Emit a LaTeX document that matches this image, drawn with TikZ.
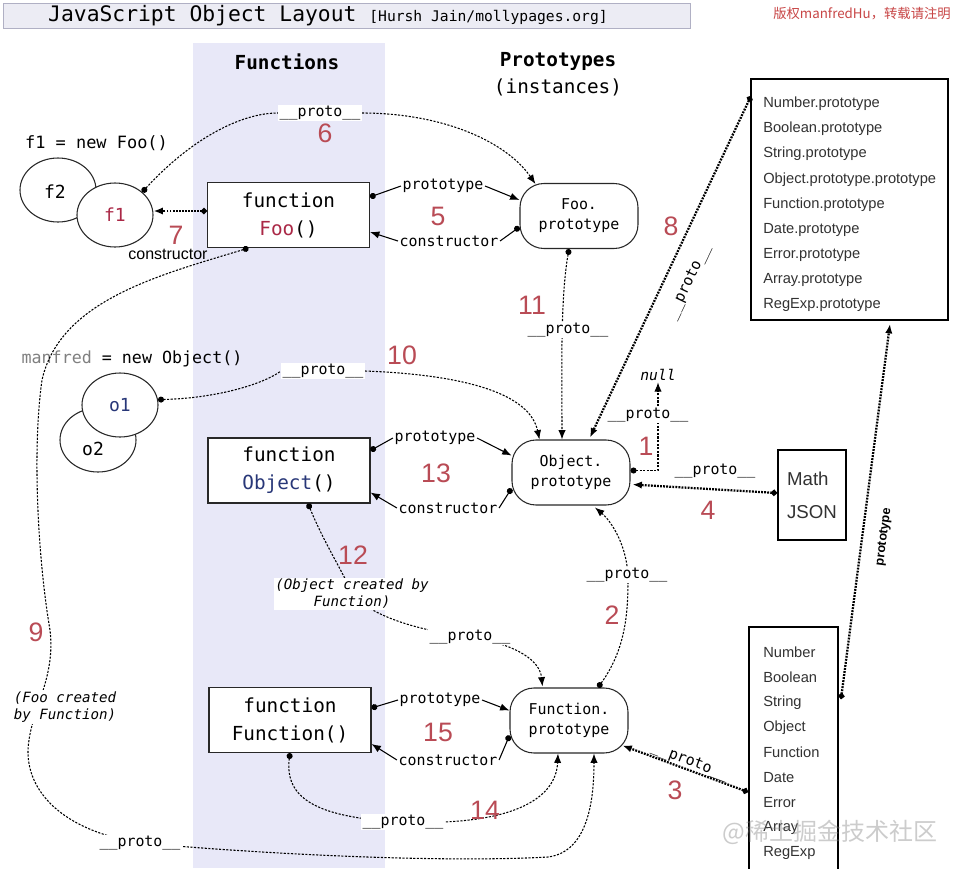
\documentclass[tikz,border=0pt]{standalone}
\usepackage{fontspec}
\setmainfont{Liberation Sans}
\setmonofont{DejaVu Sans Mono}
\newfontfamily\cjkfont{Noto Sans CJK SC}
\usetikzlibrary{arrows.meta,shapes.geometric,calc}
\definecolor{band}{RGB}{232,232,248}
\definecolor{numred}{RGB}{185,75,85}
\definecolor{fred}{RGB}{170,40,70}
\definecolor{oblue}{RGB}{40,55,120}
\definecolor{titlebg}{RGB}{236,236,244}
\definecolor{titlebd}{RGB}{176,176,196}
\definecolor{boxtxt}{RGB}{50,50,50}
\definecolor{copyred}{RGB}{200,70,70}
\definecolor{edge}{RGB}{40,40,40}
\newcommand{\fsz}[2]{\fontsize{#1}{#2}\selectfont}
\newcommand{\protolbl}{\_\_proto\_\_}
\tikzset{
 fbox/.style={draw=edge, line width=0.8pt, fill=white, minimum width=121.5pt, minimum height=48.75pt, inner sep=0pt, align=center, font=\ttfamily\fsz{14.5pt}{21pt}},
 pbox/.style={draw=edge, line width=0.8pt, rounded corners=18pt, fill=white, minimum width=88.5pt, minimum height=48.75pt, inner sep=0pt, align=center, font=\ttfamily\fsz{11.2pt}{15pt}},
 obj/.style={ellipse, draw=edge, line width=0.8pt, fill=white, minimum width=57pt, minimum height=48pt, inner sep=0pt, font=\ttfamily\fsz{13.5pt}{14pt}},
 lbl/.style={fill=white, inner sep=1pt, font=\ttfamily\fsz{11.2pt}{13pt}},
 ilbl/.style={fill=white, inner sep=1pt, align=center, font=\ttfamily\itshape\fsz{10.6pt}{12.75pt}},
 num/.style={text=numred, inner sep=0pt, font=\fsz{20pt}{20pt}},
 dl/.style={line width=0.8pt, dash pattern=on 1.6pt off 1.1pt},
 tdl/.style={line width=1.7pt, dash pattern=on 1.4pt off 0.9pt},
 sl/.style={line width=0.8pt},
 ar/.style={-{Latex[length=7pt,width=5.5pt]}},
 dar/.style={{Circle[length=4.5pt]}-{Latex[length=7pt,width=5.5pt]}},
 dot/.style={{Circle[length=4.5pt]}-},
 btxt/.style={anchor=west, inner sep=0pt, text=boxtxt, font=\fsz{11pt}{12pt}},
 bigbox/.style={draw, line width=1.5pt, fill=white, inner sep=0pt},
}
\begin{document}
\begin{tikzpicture}[x=0.75pt,y=-0.75pt]
\useasboundingbox (0,0) rectangle (957,868);
\fill[white] (0,0) rectangle (957,868);
\fill[band] (193,43) rectangle (385,868);
% title
\draw[titlebd, fill=titlebg, line width=0.6pt] (3,3) rectangle (690,28);
\node[font=\ttfamily, inner sep=0pt] (title) at (328,16) {\fsz{16pt}{16pt}JavaScript Object Layout \fsz{11pt}{11pt}[Hursh Jain/mollypages.org]};
\node[text=copyred, inner sep=0pt] (copy) at (862,14) {\cjkfont\fsz{10pt}{10pt}版权manfredHu，转载请注明};
\node[font=\ttfamily\bfseries\fsz{14.5pt}{15pt}] (hfun) at (287,62) {Functions};
\node[font=\ttfamily\bfseries\fsz{14.5pt}{15pt}] (hpro) at (558,61) {Prototypes};
\node[font=\ttfamily\fsz{14.5pt}{15pt}] (hins) at (558,87) {(instances)};

% instances
\node[font=\ttfamily\fsz{12.7pt}{13pt}] (f1lbl) at (96.5,143) {f1 = new Foo()};
\node[obj] (f2) at (58,190) {};
\node[font=\ttfamily\fsz{13.5pt}{14pt}, inner sep=0pt] (f2t) at (55,192) {f2};
\node[obj, text=fred] (f1) at (115,215) {f1};
\node[font=\ttfamily\fsz{12.5pt}{13pt}] (o1lbl) at (132,359) {\textcolor{gray}{manfred} = new Object()};
\node[obj] (o2) at (98,440) {};
\node[font=\ttfamily\fsz{13.5pt}{14pt}, inner sep=0pt] (o2t) at (93,449) {o2};
\node[obj, text=oblue] (o1) at (120,405) {o1};

% function boxes
\node[fbox] (foo) at (288.5,215) {function\\\textcolor{fred}{Foo}()};
\node[fbox] (objf) at (289,470.5) {function\\\textcolor{oblue}{Object}()};
\node[fbox] (fnf) at (290,720) {function\\Function()};
% prototype boxes
\node[pbox] (fp) at (579,216) {Foo.\\prototype};
\node[pbox] (op) at (571,472.5) {Object.\\prototype};
\node[pbox] (fnp) at (569,720.5) {Function.\\prototype};

% right boxes
\node[bigbox, minimum width=147.75pt, minimum height=180.75pt] (protos) at (849.5,199.5) {};
\foreach \t [count=\i] in {Number.prototype,Boolean.prototype,String.prototype,Object.prototype.prototype,Function.prototype,Date.prototype,Error.prototype,Array.prototype,RegExp.prototype}
  \node[btxt] (tp\i) at (763,{104+25.1*(\i-1)}) {\t};
\node[bigbox, minimum width=51pt, minimum height=67.5pt, align=left, text=boxtxt, font=\fsz{14pt}{24.75pt}] (mj) at (812,495) {Math\\JSON};
\node[bigbox, minimum width=66.75pt, minimum height=189.75pt] (ctors) at (793.5,753.5) {};
\foreach \t [count=\i] in {Number,Boolean,String,Object,Function,Date,Error,Array,RegExp}
  \node[btxt] (tc\i) at (763,{652+25.1*(\i-1)}) {\t};

% 5
\node[lbl] (l5p) at (443,186) {prototype};
\node[lbl] (l5c) at (449,241) {constructor};
\node[num] (n5) at (438,216) {5};
\draw[sl,dot] ($(foo.east)+(0,-18)$) -- (l5p.west);
\draw[sl,ar] (l5p.east) -- ($(fp.west)+(0,-16)$);
\draw[sl,dot] ($(fp.west)+(0,11)$) -- (l5c.east);
\draw[sl,ar] (l5c.west) -- ($(foo.east)+(0,17)$);
% 13
\node[lbl] (l13p) at (435,438) {prototype};
\node[lbl] (l13c) at (448,508) {constructor};
\node[num] (n13) at (436,473) {13};
\draw[sl,dot] ($(objf.east)+(0,-20)$) -- (l13p.west);
\draw[sl,ar] (l13p.east) -- ($(op.west)+(0,-17)$);
\draw[sl,dot] ($(op.west)+(0,16)$) -- (l13c.east);
\draw[sl,ar] (l13c.west) -- ($(objf.east)+(0,22)$);
% 15
\node[lbl] (l15p) at (440,700) {prototype};
\node[lbl] (l15c) at (448,760) {constructor};
\node[num] (n15) at (438,732) {15};
\draw[sl,dot] ($(fnf.east)+(0,-12)$) -- (l15p.west);
\draw[sl,ar] (l15p.east) -- ($(fnp.west)+(0,-10)$);
\draw[sl,dot] ($(fnp.west)+(0,15)$) -- (l15c.east);
\draw[sl,ar] (l15c.west) -- ($(fnf.east)+(0,24)$);

% 7
\draw[tdl,dar] ($(foo.west)+(0,-4)$) -- ($(f1.east)+(0,-4)$);
\node[num] (n7) at (176,235) {7};
\node[inner sep=0pt, font=\fsz{12pt}{12pt}] (l7) at (168,254) {constructor};

% 6
\node[lbl] (l6) at (320,113) {\protolbl};
\node[num] (n6) at (325,133) {6};
\draw[dl,dot] (f1.40) .. controls (190,140) and (240,113) .. (l6.west);
\draw[dl,ar] (l6.east) .. controls (440,113) and (505,140) .. ($(fp.north west)+(16,1)$);

% 11
\draw[dl,dar] ($(fp.south)+(-10,0)$) .. controls (560,300) and (562,380) .. ($(op.north)+(-9,0)$);
\node[lbl] (l11) at (568,330) {\protolbl};
\node[num] (n11) at (532,305) {11};

% 10
\node[lbl] (l10) at (323,371) {\protolbl};
\node[num] (n10) at (402,355) {10};
\draw[dl,dot] (o1.8) .. controls (220,398) and (265,383) .. (l10.west);
\draw[dl,ar] (l10.east) .. controls (470,375) and (530,395) .. ($(op.north west)+(28,0)$);

% 8
\draw[tdl,dar] ($(protos.north west)+(1,18)$) -- ($(op.north)+(19,-2)$);
\node[lbl, fill=none, rotate=64.5] (l8) at (689,282) {\protolbl};
\node[num] (n8) at (671,226) {8};

% 1
\node[inner sep=1pt, font=\ttfamily\itshape\fsz{11pt}{12pt}] (nul) at (658,375) {null};
\draw[dl,dar] ($(op.east)+(0,-2)$) -| (nul.south);
\node[lbl] (l1) at (648,415) {\protolbl};
\node[num] (n1) at (646,446) {1};

% 4
\draw[tdl,dar] ($(mj.west)+(0,-2)$) -- ($(op.east)+(2,12)$);
\node[lbl, fill=none] (l4) at (715,471) {\protolbl};
\node[num] (n4) at (708,510) {4};

% 2
\draw[dl,dar] ($(fnp.north)+(29,0)$) .. controls (625,650) and (628,615) .. (628,580) .. controls (628,545) and (610,520) .. ($(op.south)+(24,2)$);
\node[lbl] (l2) at (627,575) {\protolbl};
\node[num] (n2) at (612,615) {2};

% 12
\draw[dl,dar] ($(objf.south)+(19,0)$) .. controls (325,545) and (345,575) .. (352,594) .. controls (375,620) and (430,632) .. (470,637) .. controls (520,645) and (540,662) .. ($(fnp.north west)+(33,-1)$);
\node[ilbl] (l12a) at (352,594) {(Object created by\\Function)};
\node[lbl] (l12) at (470,637) {\protolbl};
\node[num] (n12) at (353,555) {12};

% 14
\draw[dl,dar] (fnf.south) .. controls (284,800) and (320,818) .. (403,822) .. controls (510,826) and (556,800) .. ($(fnp.south)+(-11,0)$);
\node[lbl] (l14) at (403,822) {\protolbl};
\node[num] (n14) at (485,810) {14};

% 9
\draw[dl,dar] ($(foo.south)+(-40,0)$) .. controls (160,275) and (60,300) .. (42,380)
  .. controls (32,450) and (38,560) .. (50,630)
  .. controls (56,680) and (30,710) .. (28,750)
  .. controls (27,790) and (60,830) .. (140,843)
  .. controls (300,857) and (460,862) .. (548,857)
  .. controls (588,852) and (594,800) .. ($(fnp.south)+(25,0)$);
\node[ilbl] (l9a) at (65,707) {(Foo created\\by Function)};
\node[lbl] (l9) at (140,843) {\protolbl};
\node[num] (n9) at (36,632) {9};

% 3
\draw[tdl,dar] ($(ctors.north west)+(0,166)$) -- ($(fnp.south east)+(-6,-8)$);
\node[lbl, fill=none, rotate=-20.7] (l3) at (690,762) {\protolbl};
\node[num] (n3) at (675,790) {3};

% prototype (constructors -> prototypes)
\draw[tdl,dar] ($(ctors.north east)+(2,73)$) -- ($(protos.south west)+(140,3)$);
\node[inner sep=0pt, rotate=82.6, font=\bfseries\fsz{9.5pt}{10pt}] (lp) at (884,537) {prototype};

% watermark
\node[text=gray, text opacity=0.4, inner sep=0pt] (wm) at (830,832) {\cjkfont\fsz{18pt}{18pt}@稀土掘金技术社区};
\end{tikzpicture}
\end{document}
